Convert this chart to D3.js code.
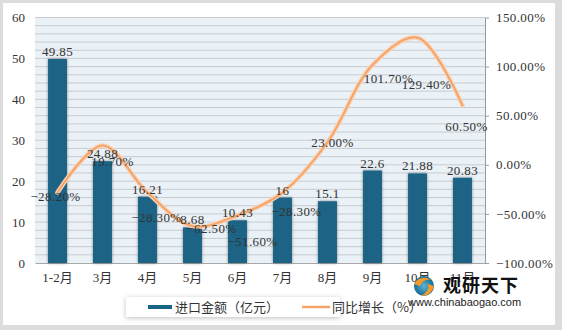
<!DOCTYPE html>
<html><head><meta charset="utf-8">
<script src="https://cdn.jsdelivr.net/npm/d3@7/dist/d3.min.js"></script>
<style>body{margin:0;background:#dcdcdc;} svg{display:block;}</style>
</head><body>
<svg id="chart" width="562" height="330"></svg>
<script>
const categories = ["1-2月","3月","4月","5月","6月","7月","8月","9月","10月","11月"];
const importValues = [49.85, 24.88, 16.21, 8.68, 10.43, 16, 15.1, 22.6, 21.88, 20.83];
const growthValues = [-28.2, 19.7, -28.3, -62.5, -51.6, -28.3, 23.0, 101.7, 129.4, 60.5];
const leftTicks = [0, 10, 20, 30, 40, 50, 60];
const rightTicks = [-100, -50, 0, 50, 100, 150];
const seriesNames = ["进口金额（亿元）", "同比增长（%）"];
// label nudges (px) for growth labels, as placed in the reference
const growthLabelNudge = [[-2,4],[10,16],[9,25],[19,2],[15,26],[14,19],[5,0],[16,14],[9,47],[4,21]];

const svg = d3.select("#chart");
const numFont = "'Liberation Serif','Noto Sans CJK SC',serif";
const cjkFont = "'Noto Sans CJK SC','Liberation Serif',sans-serif";

const defs = svg.append("defs");
const sh = defs.append("filter").attr("id","barShadow").attr("x","-50%").attr("y","-20%").attr("width","200%").attr("height","140%");
sh.append("feDropShadow").attr("dx",0).attr("dy",0).attr("stdDeviation",1.8).attr("flood-color","#000").attr("flood-opacity",0.45);
const sh2 = defs.append("filter").attr("id","boxShadow").attr("x","-20%").attr("y","-50%").attr("width","140%").attr("height","200%");
sh2.append("feDropShadow").attr("dx",0).attr("dy",1).attr("stdDeviation",2.5).attr("flood-color","#000").attr("flood-opacity",0.25);
const lg = defs.append("radialGradient").attr("id","logoGrad");
lg.append("stop").attr("offset","0%").attr("stop-color","#5fb3d6");
lg.append("stop").attr("offset","100%").attr("stop-color","#136b92");

// frame
svg.append("rect").attr("x",3).attr("y",3).attr("width",552).attr("height",322).attr("fill","#fff");

const x0 = 35, x1 = 485, yTop = 17.5, yBot = 263;
const x = d3.scaleBand().domain(categories).range([x0, x1]).paddingInner(0.58).paddingOuter(0.29);
const xc = d => x(d) + x.bandwidth()/2;
const yL = d3.scaleLinear().domain([0,60]).range([yBot, yTop]);
const yR = d3.scaleLinear().domain([-100,150]).range([yBot, yTop]);

// plot background
svg.append("rect").attr("x",x0).attr("y",yTop).attr("width",x1-x0).attr("height",yBot-yTop).attr("fill","#EAF1F7");
// gridlines every 2 units
svg.append("g").selectAll("line").data(d3.range(2, 61, 2)).join("line")
  .attr("x1",x0).attr("x2",x1).attr("y1",d=>yL(d)).attr("y2",d=>yL(d))
  .attr("stroke","#C8CCD0").attr("stroke-width",1);

// left axis
const gL = svg.append("g").attr("transform",`translate(${x0},0)`)
  .call(d3.axisLeft(yL).tickValues(leftTicks).tickSize(0).tickPadding(10).tickFormat(d3.format("d")));
gL.select(".domain").remove();
gL.selectAll("text").attr("font-family",numFont).attr("font-size",13).attr("fill","#333");

// right axis
const gR = svg.append("g").attr("transform",`translate(${x1},0)`)
  .call(d3.axisRight(yR).tickValues(rightTicks).tickSize(4).tickSizeOuter(0).tickPadding(7).tickFormat(d => d3.format(".2f")(d) + "%"));
gR.select(".domain").attr("stroke","#9A9A9A");
gR.selectAll(".tick line").attr("stroke","#9A9A9A");
gR.selectAll("text").attr("font-family",numFont).attr("font-size",13).attr("fill","#333").attr("letter-spacing","0.4");

// bottom axis
const gB = svg.append("g").attr("transform",`translate(0,${yBot})`)
  .call(d3.axisBottom(x).tickSize(0).tickPadding(10));
gB.select(".domain").attr("stroke","#A8A8A8");
gB.selectAll("text").attr("font-family",numFont).attr("font-size",13).attr("fill","#333");

// bars
svg.append("g").selectAll("rect").data(importValues).join("rect")
  .attr("x",(d,i)=>x(categories[i])).attr("width",x.bandwidth())
  .attr("y",d=>yL(d)).attr("height",d=>yBot-yL(d))
  .attr("fill","#1A6485").attr("filter","url(#barShadow)");

// line
const pts = growthValues.map((v,i)=>[xc(categories[i]), yR(v)]);
const line = d3.line().curve(d3.curveCatmullRom.alpha(0.5));
svg.append("path").attr("d",line(pts)).attr("fill","none").attr("stroke","#FAD3B5").attr("stroke-width",4.5).attr("stroke-linecap","round");
svg.append("path").attr("d",line(pts)).attr("fill","none").attr("stroke","#F4A469").attr("stroke-width",2).attr("stroke-linecap","round");

// bar labels
svg.append("g").selectAll("text").data(importValues).join("text")
  .attr("x",(d,i)=>xc(categories[i])).attr("y",d=>yL(d)-3)
  .attr("text-anchor","middle").attr("font-family",numFont).attr("font-size",13).attr("fill","#333").attr("letter-spacing","0.4")
  .text(d=>String(d));

// growth labels
svg.append("g").selectAll("text").data(growthValues).join("text")
  .attr("x",(d,i)=>pts[i][0]+growthLabelNudge[i][0]).attr("y",(d,i)=>pts[i][1]+growthLabelNudge[i][1])
  .attr("dy","0.35em")
  .attr("text-anchor","middle").attr("font-family",numFont).attr("font-size",13).attr("fill","#333").attr("letter-spacing","0.4")
  .text(d=>d3.format(".2f")(d)+"%");

// legend
const leg = svg.append("g");
leg.append("rect").attr("x",126).attr("y",297).attr("width",214).attr("height",20).attr("fill","#fff").attr("filter","url(#boxShadow)");
leg.append("rect").attr("x",148).attr("y",305).attr("width",24).attr("height",4).attr("fill","#1A6485");
leg.append("text").attr("x",175).attr("y",311.5).attr("font-family",cjkFont).attr("font-size",13).attr("fill","#333").text(seriesNames[0]);
leg.append("line").attr("x1",302).attr("x2",330).attr("y1",307).attr("y2",307).attr("stroke","#F4A469").attr("stroke-width",2.5);
leg.append("text").attr("x",332).attr("y",311.5).attr("font-family",cjkFont).attr("font-size",13).attr("fill","#333").text(seriesNames[1]);

// watermark
const wm = svg.append("g");
wm.append("circle").attr("cx",424).attr("cy",286).attr("r",10).attr("fill","url(#logoGrad)");
wm.append("path").attr("d","M414,284 Q420,274 432,280 Q424,278 420,286 Z").attr("fill","#F39A2B");
wm.append("path").attr("d","M428,284 Q430,292 420,296 Q432,296 434,286 Z").attr("fill","#F39A2B");
wm.append("text").attr("x",443).attr("y",292).attr("font-family",cjkFont).attr("font-weight","bold").attr("font-size",18).attr("fill","#111").attr("letter-spacing","1").text("观研天下");
wm.append("text").attr("x",408).attr("y",306).attr("font-family","'Liberation Sans',Arial,sans-serif").attr("font-size",11).attr("fill","#222").text("www.chinabaogao.com");
</script>
</body></html>
